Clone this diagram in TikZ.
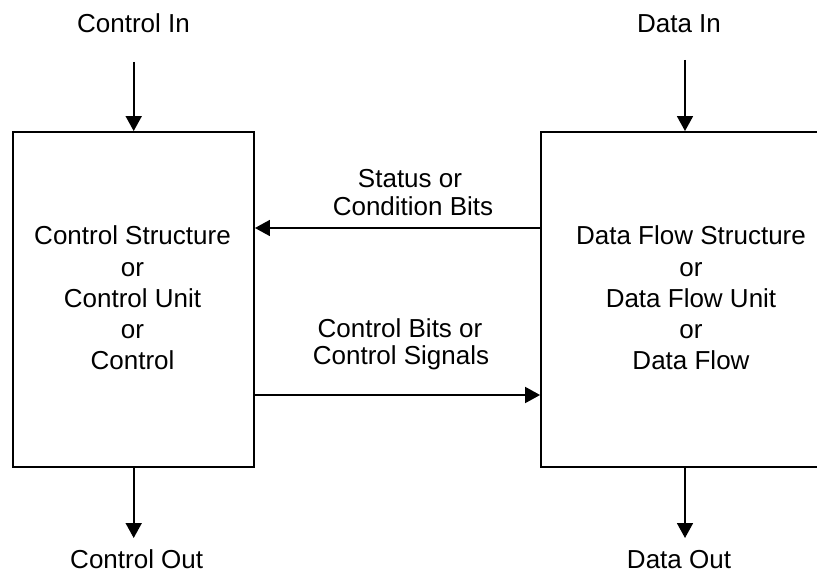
\documentclass[tikz,border=0pt]{standalone}
\usepackage{fontspec}
\setmainfont{Liberation Sans}
\usetikzlibrary{arrows.meta}
\begin{document}
\begin{tikzpicture}[x=1pt,y=-1pt,
  box/.style={draw, line width=1.8pt, inner sep=0pt, minimum width=#1, minimum height=334.7pt},
  txt/.style={font=\fontsize{26}{31.25}\selectfont, inner sep=0pt},
  lbl/.style={txt, anchor=base},
  flow/.style={-{Triangle[length=15pt,width=16pt]}, line width=1.8pt}]
  \clip (0,0) rectangle (817,575);

  % the two units
  \node[box=240.7pt] (ctrl) at (133.7,299.3) {};
  \node[box=288pt]   (data) at (685,299.3) {};
  \node[txt, align=center] (ctrltxt) at (132.5,298)
    {Control Structure\\or\\Control Unit\\or\\Control};
  \node[txt, align=center] (datatxt) at (691,298)
    {Data Flow Structure\\or\\Data Flow Unit\\or\\Data Flow};

  % inputs and outputs
  \node[lbl] (cin)  at (133.5,33)  {Control In};
  \node[lbl] (din)  at (679,33)    {Data In};
  \node[lbl] (cout) at (136.7,568) {Control Out};
  \node[lbl] (dout) at (679,568)   {Data Out};

  \coordinate (cinEnd)  at (133.7,62);
  \coordinate (dinEnd)  at (685,60);
  \coordinate (coutEnd) at (133.7,538);
  \coordinate (doutEnd) at (685,538);
  \draw[flow] (cinEnd) -- (ctrl.north);
  \draw[flow] (dinEnd) -- (data.north);
  \draw[flow] (ctrl.south) -- (coutEnd);
  \draw[flow] (data.south) -- (doutEnd);

  % status path: data flow to control
  \draw[flow] (data.west |- 0,228) -- (ctrl.east |- 0,228);
  \node[lbl] (st1) at (410,188) {Status or};
  \node[lbl] (st2) at (413,215) {Condition Bits};

  % control path: control to data flow
  \draw[flow] (ctrl.east |- 0,395) -- (data.west |- 0,395);
  \node[lbl] (cb1) at (400,337) {Control Bits or};
  \node[lbl] (cb2) at (401,364) {Control Signals};
\end{tikzpicture}
\end{document}
